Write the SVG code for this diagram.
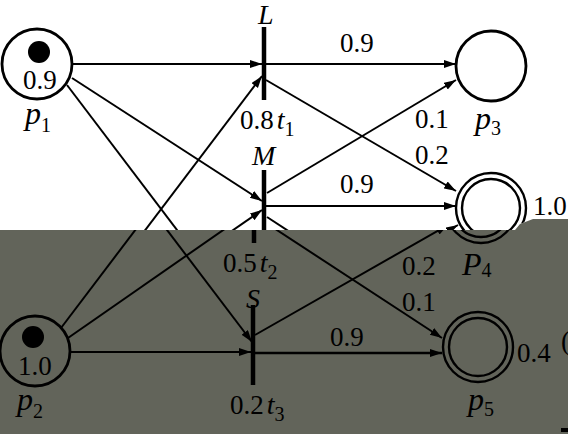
<svg xmlns="http://www.w3.org/2000/svg" xmlns:xlink="http://www.w3.org/1999/xlink" width="568" height="434" viewBox="0 0 568 434">
<style>
.ln{stroke:#000;stroke-width:2;fill:none}
.pl{stroke:#000;stroke-width:2.8;fill:none}
.pd{stroke:#000;stroke-width:2.4;fill:none}
.tr{stroke:#000;stroke-width:4.5}
.tk{fill:#000}
.n,.it,.pp,.sb{font-family:'Liberation Serif','DejaVu Serif',serif}
.n{font-size:27px}
.it{font-style:italic;font-size:28px}
.pp{font-style:italic;font-size:32px}
.sb{font-size:20px;font-style:normal}
</style>
<defs>
<marker id="ah" markerUnits="userSpaceOnUse" markerWidth="13" markerHeight="9" refX="12" refY="4" orient="auto"><path d="M0,0 L12,4 L0,8 z" fill="#000"/></marker>
<clipPath id="cw"><polygon points="0,0 568,0 568,219 533,219 520,224 515,230 0,230"/></clipPath>
<clipPath id="cg"><polygon points="0,230 515,230 520,224 533,219 568,219 568,434 0,434"/></clipPath>
</defs>
<rect x="0" y="0" width="568" height="434" fill="#fff"/>
<g clip-path="url(#cw)">
<g id="diagram" fill="#000">
<g id="connectors">
<path class="ln" marker-end="url(#ah)" d="M73,64 L262,64"/>
<path class="ln" marker-end="url(#ah)" d="M72,78 L262,201"/>
<path class="ln" marker-end="url(#ah)" d="M67,85 L262,342"/>
<path class="ln" marker-end="url(#ah)" d="M71,328 L262,76"/>
<path class="ln" marker-end="url(#ah)" d="M78,338 L262,210"/>
<path class="ln" marker-end="url(#ah)" d="M80,352 L261,352"/>
<path class="ln" marker-end="url(#ah)" d="M266,64 L456,64"/>
<path class="ln" marker-end="url(#ah)" d="M266,80 L456,191"/>
<path class="ln" marker-end="url(#ah)" d="M267,193 L456,80"/>
<path class="ln" marker-end="url(#ah)" d="M266,206 L456,206"/>
<path class="ln" marker-end="url(#ah)" d="M267,217 L452,338"/>
<path class="ln" marker-end="url(#ah)" d="M265,335 L458,225"/>
<path class="ln" style="stroke-width:2.6" marker-end="url(#ah)" d="M265,353 L452,353"/>
</g>
<g id="p1">
<circle class="pl" cx="37" cy="64" r="35"/>
<circle class="tk" cx="39" cy="52" r="11"/>
<text class="n" x="23" y="89">0.9</text>
<text class="pp" x="25" y="124">p<tspan class="sb" dy="8">1</tspan></text>
</g>
<g id="p2">
<circle class="pl" cx="45" cy="351" r="35"/>
<circle class="tk" cx="43" cy="337" r="11"/>
<text class="n" x="28" y="375">1.0</text>
<text class="pp" x="27" y="410">p<tspan class="sb" dy="8">2</tspan></text>
</g>
<g id="p3">
<circle class="pl" cx="491" cy="66" r="35"/>
<text class="pp" x="475" y="129">p<tspan class="sb" dy="6">3</tspan></text>
</g>
<g id="p4">
<circle class="pd" cx="491" cy="208" r="35"/>
<circle class="pd" cx="491" cy="208" r="29"/>
<text class="n" x="533" y="215">1.0</text>
<text class="pp" x="472" y="275">P<tspan class="sb" dy="2">4</tspan></text>
</g>
<g id="p5">
<circle class="pd" cx="488" cy="347" r="35"/>
<circle class="pd" cx="488" cy="347" r="29"/>
<text class="n" x="527" y="362">0.4</text>
<text class="pp" x="478" y="410">p<tspan class="sb" dy="6">5</tspan></text>
</g>
<g id="t1">
<line class="tr" x1="264" y1="27" x2="264" y2="100"/>
<text class="it" x="258" y="24">L</text>
<text class="n" x="240" y="129">0.8<tspan class="it" dx="3">t</tspan><tspan class="sb" dy="7">1</tspan></text>
</g>
<g id="t2">
<line class="tr" x1="264" y1="170" x2="264" y2="243"/>
<text class="it" x="252" y="165">M</text>
<text class="n" x="233" y="272">0.5<tspan class="it" dx="3">t</tspan><tspan class="sb" dy="7">2</tspan></text>
</g>
<g id="t3">
<line class="tr" x1="263" y1="305" x2="263" y2="385"/>
<text class="it" x="256" y="308">S</text>
<text class="n" x="240" y="414">0.2<tspan class="it" dx="3">t</tspan><tspan class="sb" dy="7">3</tspan></text>
</g>
<g id="arc-labels">
<text class="n" x="340" y="52">0.9</text>
<text class="n" x="415" y="128">0.1</text>
<text class="n" x="415" y="164">0.2</text>
<text class="n" x="340" y="193">0.9</text>
<text class="n" x="412" y="275">0.2</text>
<text class="n" x="412" y="311">0.1</text>
<text class="n" x="340" y="346">0.9</text>
</g>
<g id="edge-marks">
<text class="n" x="571" y="350">(</text>
<rect x="571" y="428" width="8" height="4" fill="#000"/>
</g>
</g>
</g>
<polygon points="0,230 515,230 520,224 533,219 568,219 568,434 0,434" fill="#62645a"/>
<g clip-path="url(#cg)">
<use xlink:href="#diagram" href="#diagram" transform="translate(-10,0)"/>
</g>
</svg>
